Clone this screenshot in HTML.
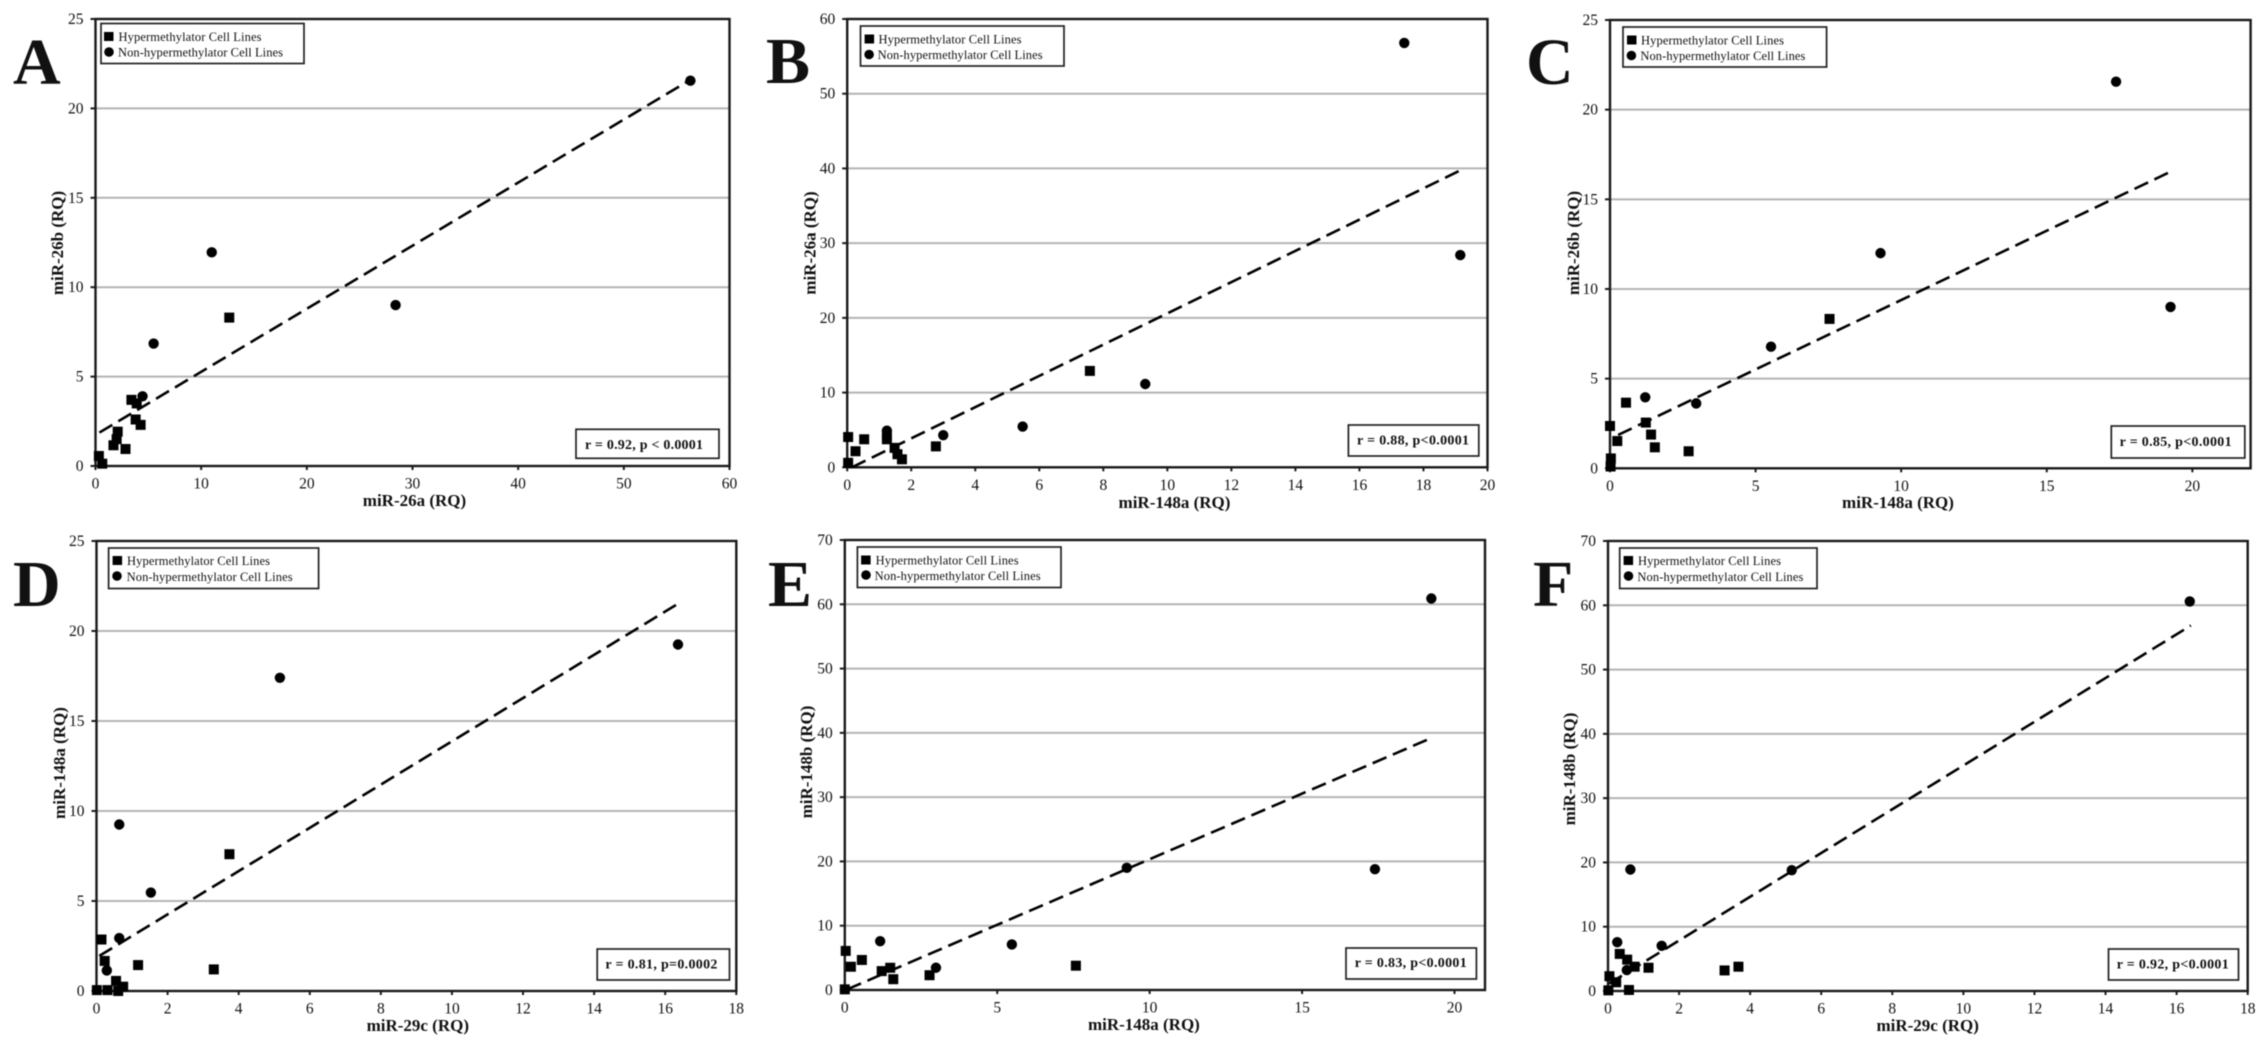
<!DOCTYPE html>
<html lang="en">
<head>
<meta charset="utf-8">
<title>miRNA correlation scatter plots</title>
<style>
html,body{margin:0;padding:0;background:#fff;width:2268px;height:1046px;overflow:hidden}
svg{display:block;filter:blur(0.6px)}
text{font-family:"Liberation Serif",serif;fill:#111}
.tick{font-size:15.5px}
.title{font-size:17px;font-weight:bold;text-anchor:middle}
.letter{font-size:66px;font-weight:bold}
.lg{font-size:12.5px}
.stat{font-size:14px;font-weight:bold;text-anchor:middle}
.box{fill:#fff;stroke:#222;stroke-width:1.7}
</style>
</head>
<body>
<svg id="figure" xmlns="http://www.w3.org/2000/svg" width="2268" height="1046" viewBox="0 0 2268 1046">
<rect width="2268" height="1046" fill="#fff"/>

<g>
<text class="letter" x="13" y="84">A</text>
<g id="plot-a"></g>
<text class="title" x="414.5" y="506">miR-26a (RQ)</text>
<text class="title" transform="translate(62.8,243) rotate(-90)">miR-26b (RQ)</text>
<g>
<rect class="box" x="101" y="23.5" width="203" height="40"/>
<rect x="104" y="32" width="9.5" height="9" fill="#000"/>
<circle cx="109" cy="52" r="4.8" fill="#000"/>
<text class="lg" x="118.5" y="41" textLength="143">Hypermethylator Cell Lines</text>
<text class="lg" x="118" y="56.5" textLength="165">Non-hypermethylator Cell Lines</text>
</g>
<g>
<rect class="box" x="576" y="429.3" width="143" height="29"/>
<text class="stat" x="644" y="449" textLength="118">r = 0.92, p &lt; 0.0001</text>
</g>
</g>

<g>
<text class="letter" x="766" y="83">B</text>
<g id="plot-b"></g>
<text class="title" x="1174.5" y="508">miR-148a (RQ)</text>
<text class="title" transform="translate(815.3,243) rotate(-90)">miR-26a (RQ)</text>
<g>
<rect class="box" x="860.5" y="26" width="203.5" height="40"/>
<rect x="864.6" y="34.5" width="9.5" height="9" fill="#000"/>
<circle cx="869.1" cy="54.5" r="4.8" fill="#000"/>
<text class="lg" x="878.5" y="43.5" textLength="143">Hypermethylator Cell Lines</text>
<text class="lg" x="877.6" y="59" textLength="165">Non-hypermethylator Cell Lines</text>
</g>
<g>
<rect class="box" x="1348.4" y="425" width="130.4" height="31"/>
<text class="stat" x="1413" y="444.5" textLength="112">r = 0.88, p&lt;0.0001</text>
</g>
</g>

<g>
<text class="letter" x="1526" y="84">C</text>
<g id="plot-c"></g>
<text class="title" x="1898" y="508">miR-148a (RQ)</text>
<text class="title" transform="translate(1578.8,243) rotate(-90)">miR-26b (RQ)</text>
<g>
<rect class="box" x="1623" y="27" width="203.6" height="40"/>
<rect x="1627" y="35.5" width="9.5" height="9" fill="#000"/>
<circle cx="1631.4" cy="55.5" r="4.8" fill="#000"/>
<text class="lg" x="1641" y="44.5" textLength="143">Hypermethylator Cell Lines</text>
<text class="lg" x="1640.4" y="60" textLength="165">Non-hypermethylator Cell Lines</text>
</g>
<g>
<rect class="box" x="2111.3" y="426" width="133.5" height="32"/>
<text class="stat" x="2175.6" y="446" textLength="112">r = 0.85, p&lt;0.0001</text>
</g>
</g>

<g>
<text class="letter" x="13" y="606">D</text>
<g id="plot-d"></g>
<text class="title" x="417.8" y="1031">miR-29c (RQ)</text>
<text class="title" transform="translate(64.8,763) rotate(-90)">miR-148a (RQ)</text>
<g>
<rect class="box" x="108.6" y="548" width="210" height="40.5"/>
<rect x="112.6" y="556" width="9.5" height="9" fill="#000"/>
<circle cx="117" cy="576" r="4.8" fill="#000"/>
<text class="lg" x="127" y="565" textLength="143">Hypermethylator Cell Lines</text>
<text class="lg" x="126.6" y="581" textLength="166">Non-hypermethylator Cell Lines</text>
</g>
<g>
<rect class="box" x="597.2" y="949" width="132.3" height="31"/>
<text class="stat" x="661.4" y="968.5" textLength="112">r = 0.81, p=0.0002</text>
</g>
</g>

<g>
<text class="letter" x="768" y="606">E</text>
<g id="plot-e"></g>
<text class="title" x="1143.9" y="1030">miR-148a (RQ)</text>
<text class="title" transform="translate(811.8,762) rotate(-90)">miR-148b (RQ)</text>
<g>
<rect class="box" x="857.4" y="547" width="203.6" height="40.5"/>
<rect x="861.1" y="555.5" width="9.5" height="9" fill="#000"/>
<circle cx="866" cy="575" r="4.8" fill="#000"/>
<text class="lg" x="875.6" y="564.5" textLength="143">Hypermethylator Cell Lines</text>
<text class="lg" x="874.6" y="580" textLength="166">Non-hypermethylator Cell Lines</text>
</g>
<g>
<rect class="box" x="1346" y="948" width="130.4" height="31"/>
<text class="stat" x="1410.7" y="967" textLength="112">r = 0.83, p&lt;0.0001</text>
</g>
</g>

<g>
<text class="letter" x="1533" y="606">F</text>
<g id="plot-f"></g>
<text class="title" x="1927.7" y="1031">miR-29c (RQ)</text>
<text class="title" transform="translate(1574.8,769) rotate(-90)">miR-148b (RQ)</text>
<g>
<rect class="box" x="1619.7" y="548" width="197.3" height="40.5"/>
<rect x="1623.6" y="556" width="9.5" height="9" fill="#000"/>
<circle cx="1628.5" cy="576" r="4.8" fill="#000"/>
<text class="lg" x="1638" y="565" textLength="143">Hypermethylator Cell Lines</text>
<text class="lg" x="1637.4" y="581" textLength="166">Non-hypermethylator Cell Lines</text>
</g>
<g>
<rect class="box" x="2108.5" y="949" width="130" height="31"/>
<text class="stat" x="2172.7" y="968.5" textLength="112">r = 0.92, p&lt;0.0001</text>
</g>
</g>
</svg>

<script>
// Panel A
const aHyperX = [0.32, 0.64, 1.7, 2.0, 2.1, 2.84, 3.4, 3.9, 3.8, 4.27, 12.66];
const aHyperY = [0.56, 0.13, 1.16, 1.5, 1.92, 0.95, 3.7, 3.5, 2.6, 2.3, 8.3];
const aNonX = [4.45, 5.5, 11, 28.4, 56.3];
const aNonY = [3.9, 6.85, 11.95, 9, 21.55];
const aTrendX = [0.37, 56.3];
const aTrendY = [1.87, 21.6];
const aXTicks = [0, 10, 20, 30, 40, 50, 60];
const aYTicks = [0, 5, 10, 15, 20, 25];

// Panel B
const bHyperX = [0.03, 0.03, 0.26, 0.53, 1.24, 1.24, 1.48, 1.57, 1.71, 2.77, 7.58];
const bHyperY = [0.6, 4.05, 2.15, 3.75, 3.75, 4.3, 2.6, 1.75, 1.07, 2.8, 12.9];
const bNonX = [1.24, 3.0, 5.48, 9.31, 17.4, 19.15];
const bNonY = [4.9, 4.3, 5.45, 11.15, 56.8, 28.4];
const bTrendX = [0.15, 19.18];
const bTrendY = [0, 39.8];
const bXTicks = [0, 2, 4, 6, 8, 10, 12, 14, 16, 18, 20];
const bYTicks = [0, 10, 20, 30, 40, 50, 60];

// Panel C
const cHyperX = [0.02, 0.03, 0, 0.25, 0.55, 1.23, 1.41, 1.54, 2.7, 7.54];
const cHyperY = [0.1, 0.55, 2.36, 1.52, 3.66, 2.55, 1.88, 1.17, 0.95, 8.33];
const cNonX = [1.21, 2.96, 5.53, 9.29, 17.38, 19.25];
const cNonY = [3.96, 3.62, 6.78, 12, 21.56, 9.0];
const cTrendX = [0.28, 19.25];
const cTrendY = [1.86, 16.54];
const cXTicks = [0, 5, 10, 15, 20];
const cYTicks = [0, 5, 10, 15, 20, 25];

// Panel D
const dHyperX = [0.01, 0.31, 0.55, 0.75, 0.61, 0.14, 0.23, 1.17, 3.3, 3.74];
const dHyperY = [0.05, 0.05, 0.56, 0.24, 0, 2.86, 1.67, 1.44, 1.2, 7.6];
const dNonX = [0.29, 0.64, 0.64, 1.53, 5.16, 16.36];
const dNonY = [1.14, 2.94, 9.25, 5.47, 17.4, 19.25];
const dTrendX = [0.08, 16.43];
const dTrendY = [1.95, 21.6];
const dXTicks = [0, 2, 4, 6, 8, 10, 12, 14, 16, 18];
const dYTicks = [0, 5, 10, 15, 20, 25];

// Panel E
const eHyperX = [0, 0.03, 0.2, 0.56, 1.21, 1.49, 1.59, 2.78, 7.58];
const eHyperY = [0.1, 6.08, 3.62, 4.67, 2.94, 3.46, 1.68, 2.3, 3.78];
const eNonX = [1.16, 2.99, 5.48, 9.25, 17.39, 19.24];
const eNonY = [7.6, 3.46, 7.08, 19, 18.8, 60.9];
const eTrendX = [0.08, 19.24];
const eTrendY = [0.1, 39.2];
const eXTicks = [0, 5, 10, 15, 20];
const eYTicks = [0, 10, 20, 30, 40, 50, 60, 70];

// Panel F
const fHyperX = [0.01, 0.04, 0.23, 0.33, 0.54, 0.75, 1.14, 0.59, 3.28, 3.67];
const fHyperY = [0.1, 2.3, 1.36, 5.77, 4.88, 3.78, 3.62, 0.16, 3.2, 3.78];
const fNonX = [0.26, 0.53, 0.63, 1.51, 5.17, 16.37];
const fNonY = [7.6, 3.25, 18.9, 7.03, 18.8, 60.6];
const fTrendX = [0.03, 16.4];
const fTrendY = [1.15, 56.85];
const fXTicks = [0, 2, 4, 6, 8, 10, 12, 14, 16, 18];
const fYTicks = [0, 10, 20, 30, 40, 50, 60, 70];

const NS = 'http://www.w3.org/2000/svg';

function make(tag, parent, attrs) {
  const node = document.createElementNS(NS, tag);
  for (const key in attrs) node.setAttribute(key, attrs[key]);
  parent.appendChild(node);
  return node;
}

function drawPanel(id, box, xMax, yMax, xTicks, yTicks, hyperX, hyperY, nonX, nonY, trendX, trendY) {
  const g = document.getElementById(id);
  const sx = v => box.left + (v / xMax) * (box.right - box.left);
  const sy = v => box.bottom - (v / yMax) * (box.bottom - box.top);

  yTicks.forEach(v => {
    if (v === 0 || v === yMax) return;
    const grid = make('line', g, {x1: box.left, x2: box.right, y1: sy(v), y2: sy(v), stroke: '#b4b4b4', 'stroke-width': 2});
    
    
  });

  const frame = make('rect', g, {x: box.left, y: box.top, width: box.right - box.left, height: box.bottom - box.top, fill: 'none', stroke: '#1a1a1a', 'stroke-width': 2.4});
  
  

  yTicks.forEach(v => {
    const mark = make('line', g, {x1: box.left - 5, x2: box.left, y1: sy(v), y2: sy(v), stroke: '#1a1a1a', 'stroke-width': 2});
    
    
    const label = make('text', g, {class: 'tick', x: box.left - 12, y: sy(v) + 5, 'text-anchor': 'end'});
    
    
    label.textContent = v;
  });

  xTicks.forEach(v => {
    const mark = make('line', g, {x1: sx(v), x2: sx(v), y1: box.bottom, y2: box.bottom + 4, stroke: '#1a1a1a', 'stroke-width': 2});
    
    
    const label = make('text', g, {class: 'tick', x: sx(v), y: box.bottom + 22.5, 'text-anchor': 'middle'});
    
    
    label.textContent = v;
  });

  const trend = make('line', g, {x1: sx(trendX[0]), y1: sy(trendY[0]), x2: sx(trendX[1]), y2: sy(trendY[1]), stroke: '#000', 'stroke-width': 2.6, 'stroke-dasharray': '15 7'});
  
  

  hyperX.forEach((x, i) => {
    const square = make('rect', g, {x: sx(x) - 5, y: sy(hyperY[i]) - 5, width: 10, height: 10, fill: '#000'});
    
    
  });

  nonX.forEach((x, i) => {
    const dot = make('circle', g, {cx: sx(x), cy: sy(nonY[i]), r: 5.2, fill: '#000'});
    
    
  });
}

drawPanel('plot-a', {left: 95.5, right: 729.5, top: 19, bottom: 466}, 60, 25, aXTicks, aYTicks, aHyperX, aHyperY, aNonX, aNonY, aTrendX, aTrendY);
drawPanel('plot-b', {left: 847.2, right: 1487.5, top: 19, bottom: 467.3}, 20, 60, bXTicks, bYTicks, bHyperX, bHyperY, bNonX, bNonY, bTrendX, bTrendY);
drawPanel('plot-c', {left: 1610, right: 2250.6, top: 20, bottom: 468.3}, 22, 25, cXTicks, cYTicks, cHyperX, cHyperY, cNonX, cNonY, cTrendX, cTrendY);
drawPanel('plot-d', {left: 96.5, right: 736.3, top: 541, bottom: 991}, 18, 25, dXTicks, dYTicks, dHyperX, dHyperY, dNonX, dNonY, dTrendX, dTrendY);
drawPanel('plot-e', {left: 844.8, right: 1485, top: 540, bottom: 990}, 21, 70, eXTicks, eYTicks, eHyperX, eHyperY, eNonX, eNonY, eTrendX, eTrendY);
drawPanel('plot-f', {left: 1608, right: 2247.7, top: 541, bottom: 991}, 18, 70, fXTicks, fYTicks, fHyperX, fHyperY, fNonX, fNonY, fTrendX, fTrendY);
</script>
</body>
</html>
